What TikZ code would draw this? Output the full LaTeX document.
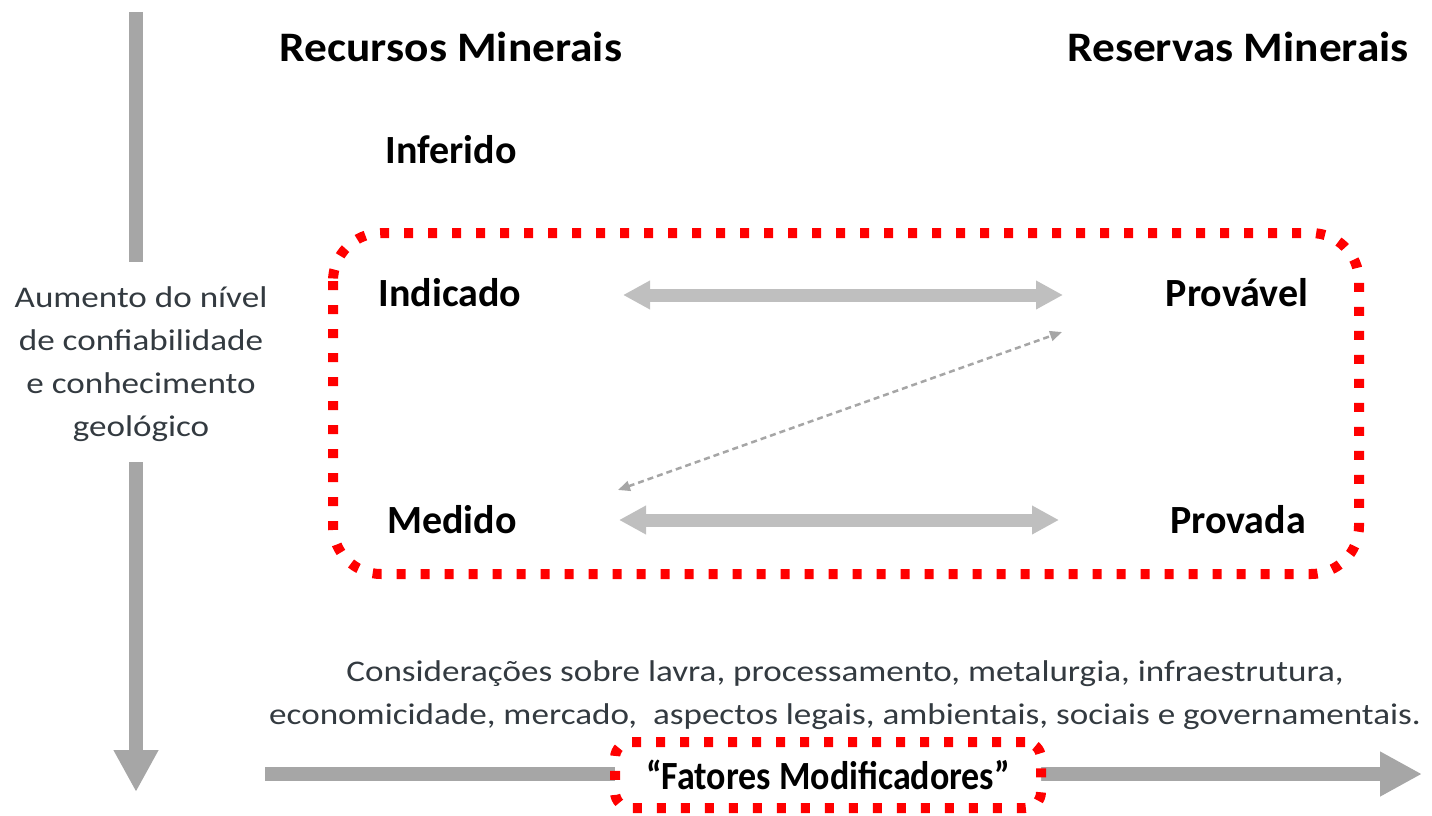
\documentclass[tikz,border=0pt]{standalone}
\usepackage{fontspec}
\setmainfont{Carlito}
\newfontfamily\widefont[FakeStretch=1.17]{Carlito}
\newfontfamily\headfont[FakeStretch=1.08]{Carlito}
\newfontfamily\narrowfont[FakeStretch=0.9]{Carlito}
\usetikzlibrary{arrows.meta}
\definecolor{axisgray}{HTML}{A6A6A6}
\definecolor{lightgray2}{HTML}{BFBFBF}
\definecolor{txtgray}{HTML}{333A40}
\begin{document}
\begin{tikzpicture}[x=1pt,y=-1pt,
  heading/.style={font=\headfont\fontsize{42}{46}\selectfont\bfseries, text=black, inner sep=0pt},
  cat/.style={font=\fontsize{40}{44}\selectfont\bfseries, text=black, inner sep=0pt},
  side/.style={font=\widefont\fontsize{30}{43}\selectfont, text=txtgray, align=center, inner sep=0pt},
  note/.style={font=\widefont\fontsize{30}{43}\selectfont, text=txtgray, align=center, inner sep=0pt},
  bigarrow/.style={axisgray, line width=14pt, -{Triangle[width=42pt,length=42pt]}},
  plainbar/.style={axisgray, line width=14pt},
  dbl/.style={lightgray2, line width=13pt, {Triangle[width=27pt,length=27pt]}-{Triangle[width=27pt,length=27pt]}},
  thin/.style={axisgray, line width=2.5pt, dash pattern=on 6pt off 4pt, {Triangle[width=10pt,length=12pt]}-{Triangle[width=10pt,length=12pt]}},
  redbox/.style={draw=red, line width=10pt, dash pattern=on 9pt off 15pt, rounded corners=48pt},
]
\useasboundingbox (0,0) rectangle (1432,816);
% vertical axis
\coordinate (vtop) at (136,12);
\coordinate (vgapA) at (136,262);
\coordinate (vgapB) at (136,462);
\coordinate (vtip) at (136,792);
\draw[plainbar] (vtop) -- (vgapA);
\draw[bigarrow] (vgapB) -- (vtip);
\node[side] (sidetxt) at (141,364) {Aumento do nível\\de confiabilidade\\e conhecimento\\geológico};
% headings
\node[heading] (rec) at (451,47) {Recursos Minerais};
\node[heading] (res) at (1238,47) {Reservas Minerais};
% categories
\node[cat] (inf) at (451,150) {Inferido};
\node[cat] (ind) at (450,293) {Indicado};
\node[cat] (med) at (452,520) {Medido};
\node[cat] (prv) at (1237,293) {Provável};
\node[cat] (prd) at (1238,520) {Provada};
% red dotted box
\draw[redbox] (333,233) rectangle (1359,574);
% connectors
\coordinate (a1) at (623,295);
\coordinate (a2) at (1063,295);
\coordinate (b1) at (619,520);
\coordinate (b2) at (1059,520);
\coordinate (c1) at (618,490);
\coordinate (c2) at (1062,332);
\draw[dbl] (a1) -- (a2);
\draw[dbl] (b1) -- (b2);
\draw[thin] (c1) -- (c2);
% bottom text
\node[note] (cons) at (845,695) {Considerações sobre lavra, processamento, metalurgia, infraestrutura,\\economicidade, mercado,\ \ aspectos legais, ambientais, sociais e governamentais.};
% horizontal axis
\coordinate (hstart) at (265,774);
\coordinate (htip) at (1422,774);
\draw[bigarrow] (hstart) -- (htip);
\node[draw=red, line width=10pt, dash pattern=on 9pt off 15pt, rounded corners=16pt, fill=white, minimum width=426pt, minimum height=66pt, inner sep=0pt, font=\narrowfont\fontsize{40}{44}\selectfont\bfseries] (fm) at (828,775) {“Fatores Modificadores”};
\end{tikzpicture}
\end{document}
